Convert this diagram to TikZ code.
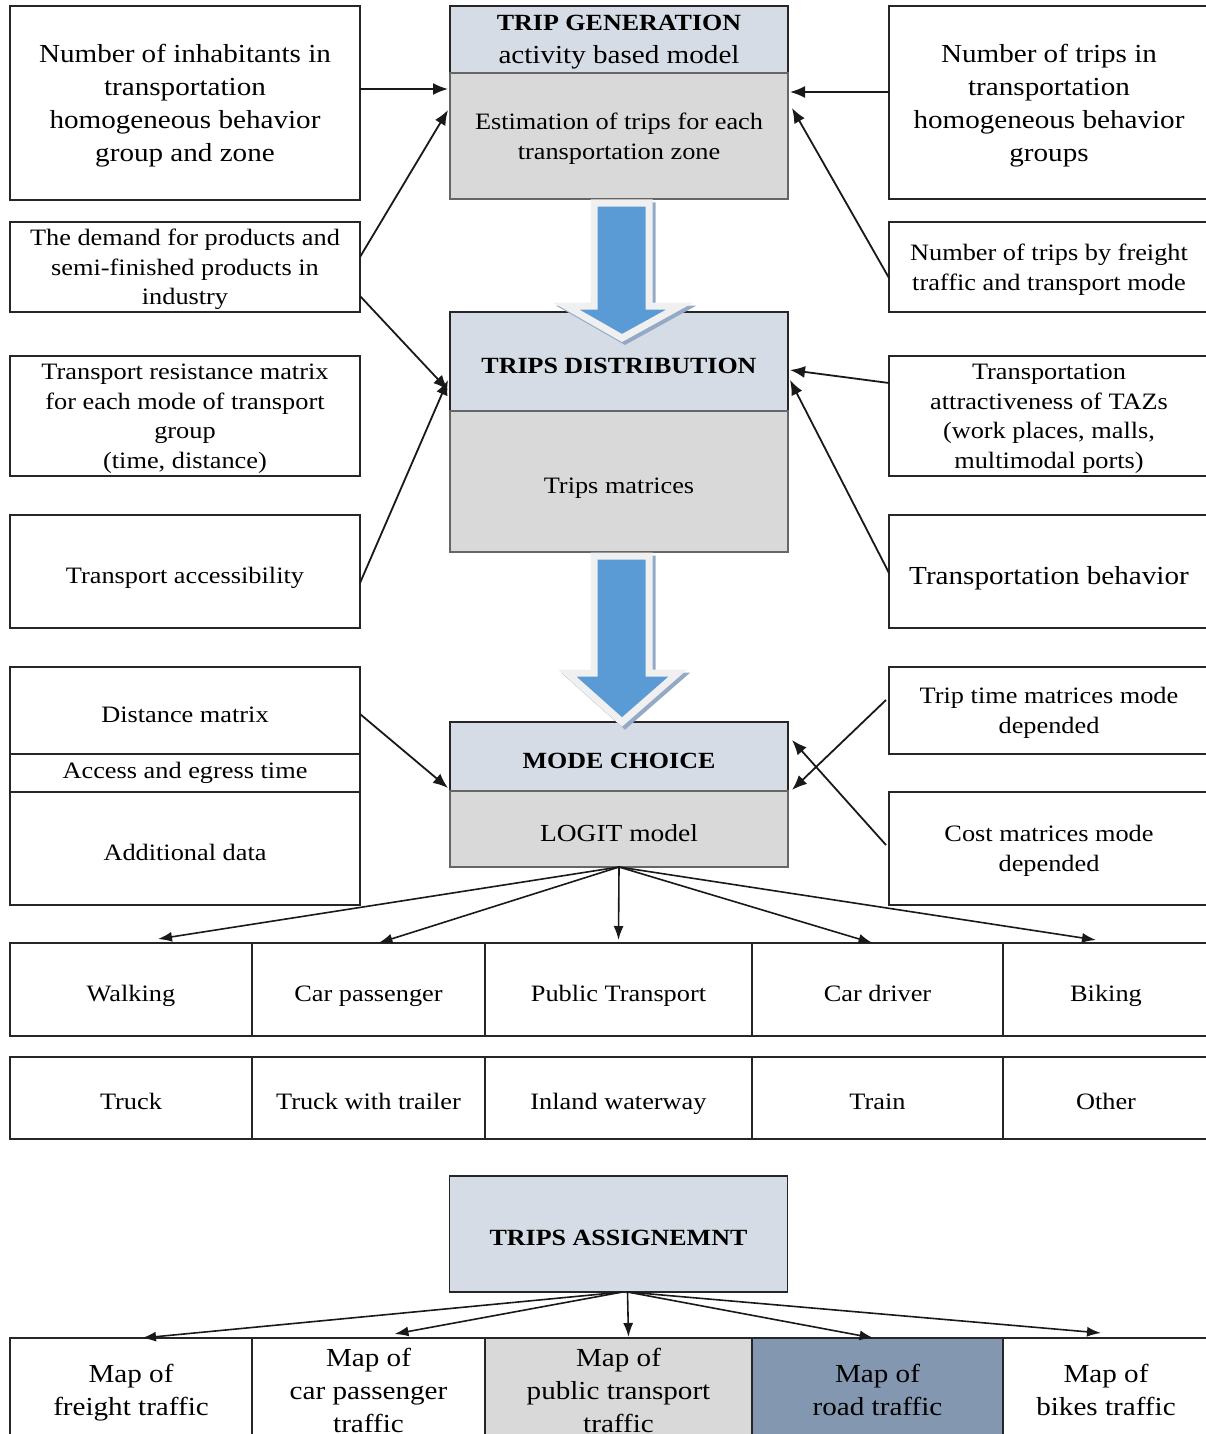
\documentclass[tikz,border=0pt]{standalone}
\usepackage{fontspec}
\setmainfont{Liberation Serif}[FakeStretch=1.12]
\usepackage{xcolor}
\usepackage{tikz}
\usetikzlibrary{arrows.meta,positioning,calc}

\definecolor{headgrey}{HTML}{D6DCE5}
\definecolor{bodygrey}{HTML}{D9D9D9}
\definecolor{roadblue}{HTML}{8497B0}
\definecolor{flowblue}{HTML}{5B9BD5}
\definecolor{flowrim}{HTML}{F0F0F0}
\definecolor{flowshade}{HTML}{93A9C6}

% taller first line, pushes the text a little down in its box
\newcommand{\boxstrut}{\rule{0pt}{\dimexpr0.7\baselineskip+12pt\relax}}

\begin{document}
\begin{tikzpicture}[
                    x=1pt, y=-1pt,
                    every node/.style={outer sep=0pt, inner sep=2pt, align=center, execute at begin node=\boxstrut, execute at end node=\strut},
                    multi/.style={text depth=-8pt},
                    sidebox/.style={draw=black!85, line width=1.5pt, fill=white},
                    headbox/.style={draw=black!85, line width=1.3pt, fill=headgrey, minimum width=338pt},
                    bodybox/.style={draw=black!60, line width=1.1pt, fill=bodygrey, minimum width=338pt},
                    cell/.style={draw=black!85, line width=1.5pt, fill=white},
                    big/.style={font=\fontsize{26}{33}\selectfont},
                    mid/.style={font=\fontsize{23.5}{29.5}\selectfont},
                    head/.style={font=\bfseries\fontsize{23.2}{28}\selectfont},
                    conn/.style={-{Latex[length=15pt,width=12pt]}, line width=1.8pt, draw=black!90},
                    fan/.style={-{Latex[length=14pt,width=10pt]}, line width=1.6pt, draw=black!90},
                    flow/.style={fill=flowblue, draw=flowrim, line width=7pt, line join=miter},
                    flowshadow/.style={fill=flowshade, draw=flowshade, line width=7pt, line join=miter}
                ]
                    \useasboundingbox (0,0) rectangle (1206,1434);
                    \clip (0,0) rectangle (1206,1434);

                    % Inputs, left
                    \node[sidebox, big, multi, minimum width=350pt, minimum height=194pt] (Inhab) at (185,103) {Number of inhabitants in\\transportation\\homogeneous behavior\\group and zone};
                    \node[sidebox, mid, multi, minimum width=350pt, minimum height=90pt, below=22pt of Inhab] (Demand) {The demand for products and\\semi-finished products in\\industry};
                    \node[sidebox, mid, multi, minimum width=350pt, minimum height=120pt, below=44pt of Demand] (Resist) {Transport resistance matrix\\for each mode of transport\\group\\(time, distance)};
                    \node[sidebox, mid, minimum width=350pt, minimum height=113pt, below=39pt of Resist] (Access) {Transport accessibility};
                    \node[sidebox, mid, minimum width=350pt, minimum height=87pt, below=39pt of Access] (DistMat) {Distance matrix};
                    \node[sidebox, mid, minimum width=350pt, minimum height=38pt, below=0pt of DistMat, text height=17pt, text depth=6pt] (Egress) {Access and egress time};
                    \node[sidebox, mid, minimum width=350pt, minimum height=113pt, below=0pt of Egress] (AddData) {Additional data};

                    % Inputs, right
                    \node[sidebox, big, multi, minimum width=320pt, minimum height=193pt] (TripsGroup) at (1049,102.5) {Number of trips in\\transportation\\homogeneous behavior\\groups};
                    \node[sidebox, mid, multi, minimum width=320pt, minimum height=90pt, below=23pt of TripsGroup] (FreightTrips) {Number of trips by freight\\traffic and transport mode};
                    \node[sidebox, mid, multi, minimum width=320pt, minimum height=120pt, below=44pt of FreightTrips] (Attract) {Transportation\\attractiveness of TAZs\\(work places, malls,\\multimodal ports)};
                    \node[sidebox, big, minimum width=320pt, minimum height=113pt, below=39pt of Attract] (Behav) {Transportation behavior};
                    \node[sidebox, mid, multi, minimum width=320pt, minimum height=87pt, below=39pt of Behav] (TimeMat) {Trip time matrices mode\\depended};
                    \node[sidebox, mid, multi, minimum width=320pt, minimum height=113pt, below=38pt of TimeMat] (CostMat) {Cost matrices mode\\depended};

                    % Model steps
                    \node[headbox, big, multi, minimum height=67pt] (GenHead) at (619,39.5) {{\bfseries\fontsize{23.2}{33}\selectfont TRIP GENERATION}\\activity based model};
                    \node[bodybox, mid, multi, minimum height=126pt, below=0pt of GenHead] (GenBody) {Estimation of trips for each\\transportation zone};
                    \node[headbox, head, minimum height=99pt] (DistHead) at (619,361.5) {TRIPS DISTRIBUTION};
                    \node[bodybox, mid, minimum height=141pt, below=0pt of DistHead] (DistBody) {Trips matrices};
                    \node[headbox, head, minimum height=69pt] (ModeHead) at (619,756.5) {MODE CHOICE};
                    \node[bodybox, font=\fontsize{24.5}{30}\selectfont, minimum height=76pt, below=0pt of ModeHead] (ModeBody) {LOGIT model};
                    \node[headbox, head, minimum height=116pt] (AssignHead) at (618.5,1234) {TRIPS ASSIGNEMNT};

                    % Modes
                    \node[cell, mid, minimum width=242pt, minimum height=93pt, anchor=north west] (Walk) at (10,943) {Walking};
                    \node[cell, mid, minimum width=233pt, minimum height=93pt, right=0pt of Walk] (CarPass) {Car passenger};
                    \node[cell, mid, minimum width=267pt, minimum height=93pt, right=0pt of CarPass] (PubTrans) {Public Transport};
                    \node[cell, mid, minimum width=251pt, minimum height=93pt, right=0pt of PubTrans] (CarDriver) {Car driver};
                    \node[cell, mid, minimum width=206pt, minimum height=93pt, right=0pt of CarDriver] (Biking) {Biking};

                    \node[cell, mid, minimum width=242pt, minimum height=82pt, anchor=north west] (Truck) at (10,1057) {Truck};
                    \node[cell, mid, minimum width=233pt, minimum height=82pt, right=0pt of Truck] (Trailer) {Truck with trailer};
                    \node[cell, mid, minimum width=267pt, minimum height=82pt, right=0pt of Trailer] (Inland) {Inland waterway};
                    \node[cell, mid, minimum width=251pt, minimum height=82pt, right=0pt of Inland] (Train) {Train};
                    \node[cell, mid, minimum width=206pt, minimum height=82pt, right=0pt of Train] (Other) {Other};

                    % Maps
                    \node[cell, big, multi, minimum width=242pt, minimum height=104pt, anchor=north west] (MapFreight) at (10,1338) {Map of\\freight traffic};
                    \node[cell, big, multi, minimum width=233pt, minimum height=104pt, right=0pt of MapFreight] (MapCar) {Map of\\car passenger\\traffic};
                    \node[cell, big, multi, fill=bodygrey, minimum width=267pt, minimum height=104pt, right=0pt of MapCar] (MapPublic) {Map of\\public transport\\traffic};
                    \node[cell, big, multi, fill=roadblue, minimum width=251pt, minimum height=104pt, right=0pt of MapPublic] (MapRoad) {Map of\\road traffic};
                    \node[cell, big, multi, minimum width=206pt, minimum height=104pt, right=0pt of MapRoad] (MapBikes) {Map of\\bikes traffic};

                    % Big flow arrows
                    \draw[flowshadow, shift={(3,3)}] (594,203) -- (649,203) -- (649,306) -- (680,306) -- (622,338) -- (566,306) -- (594,306) -- cycle;
                    \draw[flow] (594,203) -- (649,203) -- (649,306) -- (680,306) -- (622,338) -- (566,306) -- (594,306) -- cycle;
                    \draw[flowshadow, shift={(3,3)}] (594,556) -- (649,556) -- (649,673) -- (678,673) -- (622,722) -- (567,673) -- (594,673) -- cycle;
                    \draw[flow] (594,556) -- (649,556) -- (649,673) -- (678,673) -- (622,722) -- (567,673) -- (594,673) -- cycle;

                    % Connectors
                    \draw[conn] ($(Inhab.north east)+(0,83)$) -- ($(GenBody.north west)+(-2,16)$);
                    \draw[conn] ($(Demand.north east)+(0,35)$) -- ($(GenBody.north west)+(-2,37)$);
                    \draw[conn] ($(Demand.north east)+(0,74)$) -- ($(DistHead.north west)+(-2,78)$);
                    \draw[conn] ($(Access.north east)+(0,68)$) -- ($(DistHead.north west)+(-2,68)$);
                    \draw[conn] ($(TripsGroup.north west)+(0,86)$) -- ($(GenBody.north east)+(2,19)$);
                    \draw[conn] ($(FreightTrips.north west)+(0,56)$) -- ($(GenBody.north east)+(4,35)$);
                    \draw[conn] ($(Attract.north west)+(0,27)$) -- ($(DistHead.north east)+(2,58)$);
                    \draw[conn] ($(Behav.north west)+(0,58)$) -- ($(DistHead.north east)+(2,68)$);
                    \draw[conn] ($(DistMat.north east)+(0,47)$) -- ($(ModeHead.south west)+(-2,-3)$);
                    \draw[conn] ($(TimeMat.north west)+(-3,33)$) -- ($(ModeHead.south east)+(4,-1)$);
                    \draw[conn] ($(CostMat.north west)+(-3,53)$) -- ($(ModeHead.north east)+(4,18)$);

                    \draw[fan] (ModeBody.south) -- ($(Walk.north)+(27,-4)$);
                    \draw[fan] (ModeBody.south) -- ($(CarPass.north)+(10,0)$);
                    \draw[fan] (ModeBody.south) -- ($(PubTrans.north)+(0,-3)$);
                    \draw[fan] (ModeBody.south) -- ($(CarDriver.north)+(-5,0)$);
                    \draw[fan] (ModeBody.south) -- ($(Biking.north)+(-10,-3)$);

                    \draw[fan] ($(AssignHead.south)+(4,0)$) -- ($(MapFreight.north)+(11,0)$);
                    \draw[fan] ($(AssignHead.south)+(4,0)$) -- ($(MapCar.north)+(26,-4)$);
                    \draw[fan] ($(AssignHead.south)+(9,0)$) -- ($(MapPublic.north)+(10,-1)$);
                    \draw[fan] ($(AssignHead.south)+(9,0)$) -- ($(MapRoad.north)+(-4,0)$);
                    \draw[fan] ($(AssignHead.south)+(9,0)$) -- ($(MapBikes.north)+(-5,-5)$);
                \end{tikzpicture}
\end{document}
